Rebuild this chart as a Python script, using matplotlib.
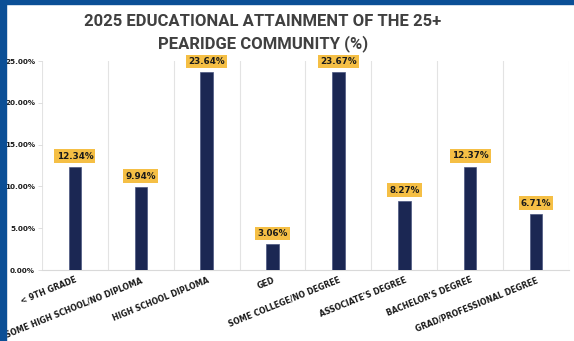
import matplotlib.pyplot as plt
from matplotlib.patches import Rectangle
from matplotlib.ticker import FuncFormatter, MultipleLocator

# Educational attainment, population 25 and older
categories = ['< 9TH GRADE', 'SOME HIGH SCHOOL/NO DIPLOMA', 'HIGH SCHOOL DIPLOMA', 'GED',
              'SOME COLLEGE/NO DEGREE', "ASSOCIATE'S DEGREE", "BACHELOR'S DEGREE",
              'GRAD/PROFESSIONAL DEGREE']
percent = [12.34, 9.94, 23.64, 3.06, 23.67, 8.27, 12.37, 6.71]

bar_color = '#1b2753'
label_bg = '#f5bf45'
frame_blue = '#0b4f96'

fig = plt.figure(figsize=(5.74, 3.41), dpi=100)
ax = fig.add_axes([0.0732, 0.2082, 0.918, 0.6129])

x = range(len(categories))
ax.bar(x, percent, width=0.19, color=bar_color, edgecolor='#4a5680', linewidth=0.5, zorder=3)

# value labels in yellow boxes above each bar
for i, v in zip(x, percent):
    ax.annotate(f'{v:.2f}%', (i, v), xytext=(0, 4.5), textcoords='offset points',
                ha='center', va='bottom', fontsize=6.3, fontweight='bold', color='#1a1a1a',
                bbox=dict(boxstyle='square,pad=0.25', fc=label_bg, ec='none'), zorder=4)

ax.set_xlim(-0.5, len(categories) - 0.5)
ax.set_ylim(0, 25)
ax.yaxis.set_major_locator(MultipleLocator(5))
ax.yaxis.set_major_formatter(FuncFormatter(lambda v, _: f'{v:.2f}%'))

# category separators
ax.set_xticks([i - 0.5 for i in range(len(categories) + 1)], minor=True)
ax.grid(True, axis='x', which='minor', color='#e3e3e3', linewidth=0.8, zorder=0)
ax.tick_params(axis='x', which='minor', length=0)

ax.set_xticks(list(x))
ax.set_xticklabels(categories, rotation=22, ha='right', rotation_mode='anchor',
                   fontsize=5.6, fontweight='bold', color='#1a1a1a')
ax.tick_params(axis='x', which='major', length=0, pad=4)
ax.tick_params(axis='y', labelsize=5.2, colors='#d9d9d9', labelcolor='#1a1a1a', length=3, width=0.6, pad=2)
for lbl in ax.get_yticklabels():
    lbl.set_fontweight('bold')

for side in ['top', 'right', 'left']:
    ax.spines[side].set_visible(False)
ax.spines['bottom'].set_color('#d9d9d9')
ax.spines['bottom'].set_linewidth(0.8)

fig.text(0.458, 0.96, '2025 EDUCATIONAL ATTAINMENT OF THE 25+\nPEARIDGE COMMUNITY (%)',
         ha='center', va='top', fontsize=12, fontweight='bold', color='#404040',
         family='Roboto', linespacing=1.5)

# blue frame along the left and top edges
fig.patches.append(Rectangle((0, 0), 6 / 574, 1, transform=fig.transFigure, color=frame_blue, zorder=10))
fig.patches.append(Rectangle((0, 1 - 4 / 341), 1, 4 / 341, transform=fig.transFigure, color=frame_blue, zorder=10))

fig.savefig('out.png', dpi=100)
